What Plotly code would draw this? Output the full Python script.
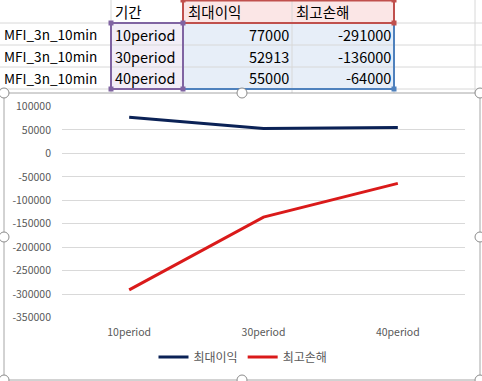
import plotly.graph_objects as go

W, H = 482, 381

# ---------------- data ----------------
row_labels = ["MFI_3n_10min", "MFI_3n_10min", "MFI_3n_10min"]
period_header = "기간"
periods = ["10period", "30period", "40period"]
series_names = ["최대이익", "최고손해"]
max_profit = [77000, 52913, 55000]
max_loss = [-291000, -136000, -64000]
y_ticks = [100000, 50000, 0, -50000, -100000, -150000, -200000, -250000, -300000, -350000]
y_tick_labels = [str(v) for v in y_ticks]

series_values = [max_profit, max_loss]
series_colors = ["#0B2256", "#DA1A1A"]

FONT = "Noto Sans CJK KR, Noto Sans, sans-serif"


def px(x):
    return x / W


def py(y):
    return 1 - y / H


shapes = []
annotations = []


def rect(x0, y0, x1, y1, fill=None, line=None, lw=1, layer="below"):
    shapes.append(dict(type="rect", xref="paper", yref="paper",
                       x0=px(x0), x1=px(x1), y0=py(y1), y1=py(y0),
                       fillcolor=fill if fill else "rgba(0,0,0,0)",
                       line=dict(color=line if line else "rgba(0,0,0,0)", width=lw if line else 0),
                       layer=layer))


def hline(y, x0, x1, color, lw=1, layer="below"):
    shapes.append(dict(type="line", xref="paper", yref="paper",
                       x0=px(x0), x1=px(x1), y0=py(y), y1=py(y),
                       line=dict(color=color, width=lw), layer=layer))


def vline(x, y0, y1, color, lw=1, layer="below"):
    shapes.append(dict(type="line", xref="paper", yref="paper",
                       x0=px(x), x1=px(x), y0=py(y0), y1=py(y1),
                       line=dict(color=color, width=lw), layer=layer))


# ---------------- spreadsheet ----------------
col_edges = [0, 111, 183, 292, 394, 475]
row_edges = [0, 23, 45, 67, 89]

rect(111, 23, 183, 89, fill="#F2EEF7")
rect(183, 0, 394, 23, fill="#FBE6E6")
rect(183, 23, 394, 89, fill="#E7EEF8")

for y in row_edges[1:]:
    hline(y, 0, W, "#D8D8D8")
for x in col_edges[1:]:
    vline(x, 0, 95, "#D8D8D8")

rect(111, 23, 183, 89, line="#8064A2", lw=2)
rect(183, 0.5, 394, 23, line="#C0504D", lw=2)
vline(394, 23, 89, "#4F81BD", lw=2)
hline(89, 183, 394, "#4F81BD", lw=2)


def sq(x, y, color):
    rect(x - 2.5, y - 2.5, x + 2.5, y + 2.5, fill=color)


for (x, y) in [(111, 23), (183, 23), (111, 89), (183, 89)]:
    sq(x, y, "#8064A2")
for (x, y) in [(183, 0), (394, 0), (394, 23)]:
    sq(x, y, "#C0504D")
sq(394, 89, "#4F81BD")

row_centers = [(row_edges[i] + row_edges[i + 1]) / 2 for i in range(len(row_edges) - 1)]


def txt(text, x, y, anchor="left", size=14.5, color="#000000"):
    annotations.append(dict(text=text, x=px(x), y=py(y), xref="paper", yref="paper",
                            xanchor=anchor, yanchor="middle", showarrow=False,
                            borderpad=0, font=dict(family=FONT, size=size, color=color)))


txt(period_header, 114, row_centers[0])
txt(series_names[0], 187, row_centers[0])
txt(series_names[1], 295, row_centers[0])
for i in range(3):
    txt(row_labels[i], 3, row_centers[i + 1], size=13.6)
    txt(periods[i], 114, row_centers[i + 1])
    txt(str(max_profit[i]), 290, row_centers[i + 1], anchor="right")
    txt(str(max_loss[i]), 392, row_centers[i + 1], anchor="right")

# ---------------- chart box ----------------
rect(4, 93, 480, 380, fill="#FFFFFF", line="#A6A6A6", lw=1)

for (x, y) in [(4, 93), (242, 93), (480, 93), (4, 237), (480, 237), (4, 380), (242, 380), (480, 380)]:
    shapes.append(dict(type="circle", xref="paper", yref="paper",
                       x0=px(x - 5), x1=px(x + 5), y0=py(y + 5), y1=py(y - 5),
                       fillcolor="#FFFFFF", line=dict(color="#8C8C8C", width=1), layer="above"))

# ---------------- figure ----------------
fig = go.Figure()
for name, vals, col in zip(series_names, series_values, series_colors):
    fig.add_trace(go.Scatter(x=periods, y=vals, name=name, mode="lines",
                             line=dict(color=col, width=3)))

fig.update_layout(
    width=W, height=H,
    margin=dict(l=0, r=0, t=0, b=0, pad=0, autoexpand=False),
    paper_bgcolor="#FFFFFF",
    plot_bgcolor="rgba(0,0,0,0)",
    font=dict(family=FONT, color="#595959"),
    shapes=shapes,
    annotations=annotations,
    showlegend=True,
    legend=dict(orientation="h", x=px(243), xanchor="center", y=py(357), yanchor="middle",
                font=dict(size=12, color="#595959", family=FONT),
                bgcolor="rgba(0,0,0,0)", itemwidth=30, tracegroupgap=0),
    xaxis=dict(domain=[px(62), px(465)], type="category", range=[-0.5, 2.5],
               showgrid=False, zeroline=False, showline=False, ticks="", automargin=False,
               tickfont=dict(size=10.5, color="#595959"), ticklabelstandoff=6),
    yaxis=dict(domain=[py(318), py(106)], range=[-351000, 101000],
               tickvals=y_ticks, ticktext=y_tick_labels, automargin=False,
               showgrid=True, gridcolor="#D9D9D9", gridwidth=1,
               zeroline=False, showline=False, ticks="",
               tickfont=dict(size=10.5, color="#595959"), ticklabelstandoff=10),
)

post = ("document.documentElement.style.margin='0';document.body.style.margin='0';"
        "document.body.style.padding='0';document.documentElement.style.overflow='hidden';"
        "document.body.style.overflow='hidden';"
        "var gd=document.getElementById('{plot_id}');gd.style.position='fixed';"
        "gd.style.left='0px';gd.style.top='0px';")

fig.write_html("out.html", post_script=post, config={"displayModeBar": False})
